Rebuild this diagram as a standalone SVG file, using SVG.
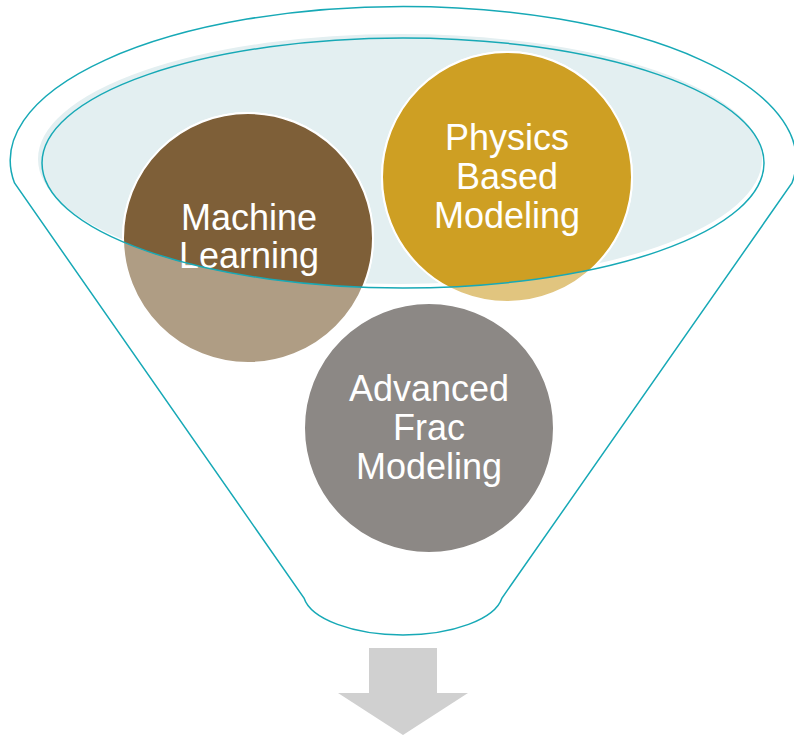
<svg xmlns="http://www.w3.org/2000/svg" width="794" height="735" viewBox="0 0 794 735">
<style>
.outline{fill:none;stroke:#17A9B6;stroke-width:1.5}
.lbl{font-family:"Liberation Sans",Arial,sans-serif;font-size:36px;fill:#fff;text-anchor:middle}
.ring{stroke:#fff;stroke-width:2}
</style>
<defs>
<clipPath id="inner"><ellipse cx="403" cy="163" rx="361" ry="125"/></clipPath>
</defs>
<rect width="794" height="735" fill="#fff"/>
<g id="funnel">
<path class="outline" d="M 14.5 183 A 393 154 0 1 1 792 183 L 502 598 A 100 43 0 0 1 304 598 Z" fill="#fff"/>
<ellipse cx="400" cy="159" rx="363" ry="126" fill="#E3EFF1" stroke="#fff" stroke-width="2"/>
</g>
<g id="arrow">
<polygon points="369,648 437,648 437,693 468,693 403,735 338,693 369,693" fill="#D0D0D0"/>
</g>
<g id="machine-learning">
<circle cx="248" cy="238" r="125" fill="#AF9D84" class="ring"/>
<circle cx="248" cy="238" r="125" fill="#7E5F38" class="ring" clip-path="url(#inner)"/>
<text class="lbl" x="249" y="230">Machine</text>
<text class="lbl" x="249" y="268">Learning</text>
</g>
<g id="physics-based-modeling">
<circle cx="507" cy="177" r="125" fill="#E1C57F" class="ring"/>
<circle cx="507" cy="177" r="125" fill="#CE9F23" class="ring" clip-path="url(#inner)"/>
<text class="lbl" x="507" y="150">Physics</text>
<text class="lbl" x="507" y="189">Based</text>
<text class="lbl" x="507" y="228">Modeling</text>
</g>
<g id="advanced-frac-modeling">
<circle cx="429" cy="428" r="125" fill="#8C8885" class="ring"/>
<text class="lbl" x="429" y="401">Advanced</text>
<text class="lbl" x="429" y="440">Frac</text>
<text class="lbl" x="429" y="479">Modeling</text>
</g>
<g id="connectors">
<ellipse class="outline" cx="403" cy="163" rx="361" ry="125"/>
</g>
</svg>
